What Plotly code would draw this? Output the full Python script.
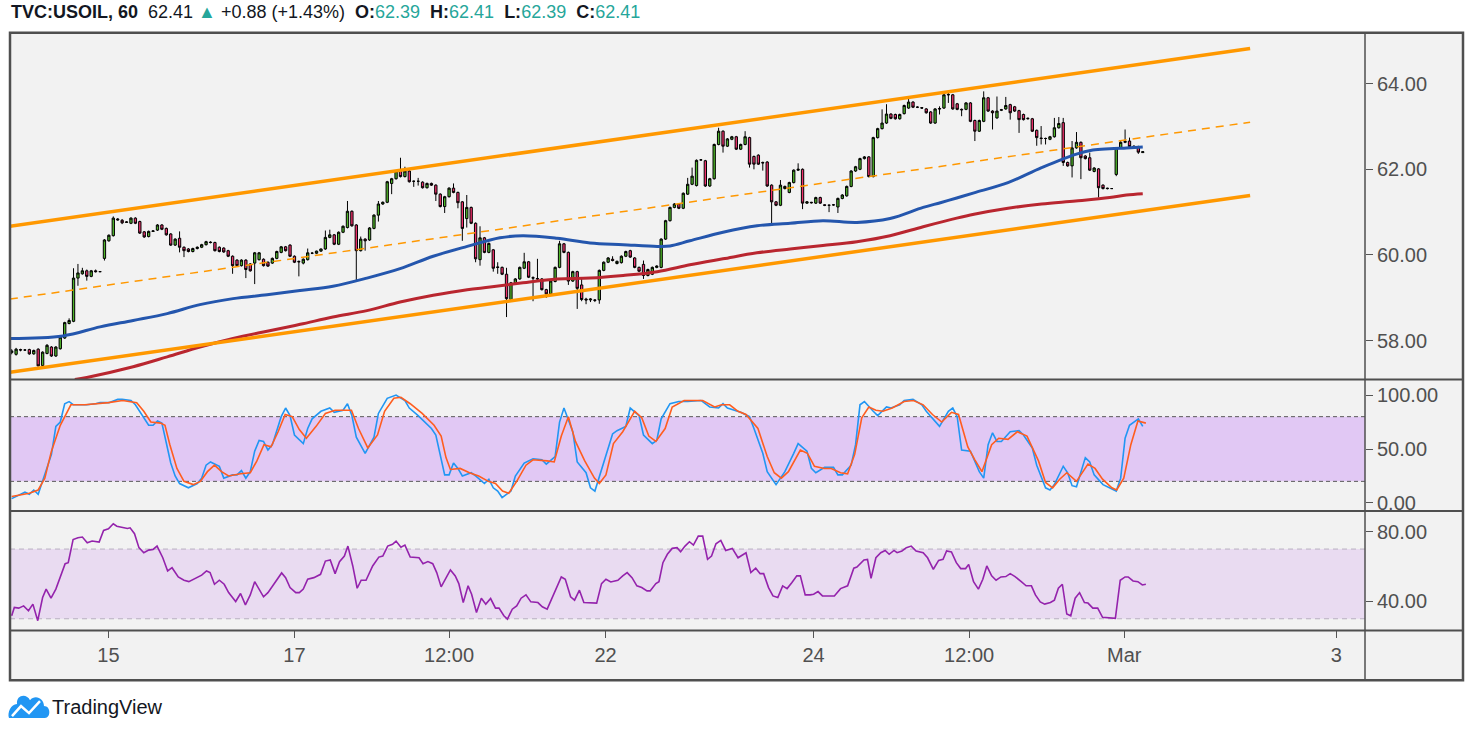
import plotly.graph_objects as go

W, H = 1471, 737
FONT = "Liberation Sans, Arial, sans-serif"

symbol = "TVC:USOIL, 60"
change = 0.88
change_pct = 1.43

# hourly candles, one entry per bar
opens = [
    57.72, 57.68, 57.79, 57.78, 57.79, 57.69, 57.80, 57.42, 57.70, 57.85,
    57.64, 57.81, 58.06, 58.40, 58.45, 59.46, 59.56, 59.63, 59.50, 59.63,
    59.61, 59.92, 60.33, 60.45, 60.84, 60.81, 60.76, 60.74, 60.86, 60.78,
    60.54, 60.43, 60.55, 60.58, 60.70, 60.62, 60.49, 60.23, 60.39, 60.18,
    60.14, 60.08, 60.15, 60.18, 60.24, 60.30, 60.29, 60.18, 60.16, 60.10,
    59.97, 59.88, 59.75, 59.88, 59.79, 59.81, 59.89, 59.90, 59.83, 59.81,
    59.92, 60.06, 60.19, 60.23, 59.97, 59.85, 59.81, 59.89, 60.04, 60.04,
    60.09, 60.14, 60.41, 60.47, 60.25, 60.53, 60.64, 61.02, 60.70, 60.10,
    60.37, 60.35, 60.62, 60.93, 61.19, 61.23, 61.67, 61.78, 61.96, 61.83,
    61.96, 61.72, 61.72, 61.70, 61.57, 61.67, 61.63, 61.42, 61.13, 61.36,
    61.56, 61.46, 61.24, 60.85, 61.11, 60.74, 59.89, 60.40, 60.06, 60.12,
    59.72, 59.71, 59.55, 58.96, 59.35, 59.44, 59.69, 59.84, 59.47, 59.45,
    59.44, 59.19, 59.09, 59.38, 59.71, 60.26, 60.06, 59.39, 59.61, 59.30,
    58.97, 58.95, 58.95, 58.95, 59.64, 59.83, 59.90, 59.80, 59.82, 59.97,
    60.10, 59.93, 59.71, 59.78, 59.52, 59.55, 59.71, 59.71, 60.37, 60.80,
    61.11, 61.19, 61.09, 61.42, 61.65, 61.62, 62.22, 62.20, 61.61, 61.78,
    62.58, 62.89, 62.54, 62.70, 62.76, 62.47, 62.58, 62.74, 62.30, 62.33,
    62.16, 62.17, 61.63, 61.24, 61.16, 61.55, 61.46, 61.69, 61.98, 62.00,
    61.21, 61.23, 61.21, 61.34, 61.17, 61.16, 61.17, 61.12, 61.32, 61.38,
    61.60, 61.96, 62.00, 62.25, 62.29, 61.83, 62.74, 62.95, 63.08, 63.29,
    63.28, 63.18, 63.30, 63.43, 63.57, 63.45, 63.44, 63.41, 63.34, 63.08,
    63.42, 63.43, 63.75, 63.74, 63.53, 63.40, 63.40, 63.55, 63.14, 62.89,
    63.12, 63.67, 63.36, 63.20, 63.38, 63.41, 63.51, 63.46, 63.37, 63.28,
    63.18, 63.18, 62.91, 62.73, 62.72, 62.70, 62.76, 62.97, 63.09, 62.16,
    62.08, 62.50, 62.63, 62.31, 62.27, 61.95, 62.01, 61.63, 61.56, 61.55,
    61.88, 62.50, 62.63, 62.66, 62.54, 62.53, 62.39,
]
highs = [
    57.80, 57.83, 57.81, 57.80, 57.81, 57.79, 57.82, 57.75, 57.92, 57.87,
    57.87, 58.10, 58.44, 58.52, 59.69, 59.79, 59.70, 59.66, 59.65, 59.66,
    59.62, 60.37, 60.48, 60.90, 60.86, 60.84, 60.79, 60.88, 60.88, 60.80,
    60.56, 60.57, 60.58, 60.72, 60.72, 60.64, 60.51, 60.39, 60.55, 60.20,
    60.16, 60.17, 60.20, 60.26, 60.33, 60.32, 60.31, 60.20, 60.18, 60.12,
    59.99, 59.90, 59.90, 59.90, 59.81, 60.07, 60.07, 59.92, 59.85, 59.94,
    60.10, 60.21, 60.21, 60.25, 59.99, 59.87, 59.92, 60.15, 60.07, 60.10,
    60.15, 60.57, 60.59, 60.49, 60.55, 60.69, 61.26, 61.04, 60.72, 60.43,
    60.39, 60.65, 60.95, 61.26, 61.25, 61.73, 61.80, 61.98, 62.27, 62.06,
    61.98, 61.74, 61.80, 61.72, 61.69, 61.69, 61.65, 61.44, 61.38, 61.58,
    61.67, 61.48, 61.26, 61.40, 61.13, 60.76, 60.67, 60.42, 60.29, 60.14,
    59.83, 59.73, 59.70, 59.37, 59.46, 59.73, 60.05, 59.86, 59.50, 59.91,
    59.46, 59.21, 59.41, 59.73, 60.33, 60.28, 60.08, 59.63, 59.63, 59.48,
    59.00, 58.99, 58.97, 59.66, 59.85, 59.95, 59.97, 59.87, 59.99, 60.10,
    60.12, 59.95, 59.73, 59.87, 59.68, 59.73, 59.76, 60.39, 60.82, 61.13,
    61.21, 61.21, 61.46, 61.80, 62.04, 62.23, 62.24, 62.22, 61.80, 62.60,
    62.97, 62.91, 62.73, 62.78, 62.78, 62.60, 62.89, 62.76, 62.32, 62.35,
    62.18, 62.19, 61.65, 61.26, 61.75, 61.62, 61.71, 62.00, 62.14, 62.02,
    61.26, 61.24, 61.36, 61.36, 61.18, 61.18, 61.19, 61.34, 61.42, 61.62,
    61.98, 62.08, 62.27, 62.31, 62.31, 62.76, 62.97, 63.40, 63.52, 63.31,
    63.30, 63.30, 63.51, 63.68, 63.59, 63.47, 63.45, 63.43, 63.36, 63.43,
    63.47, 63.80, 63.80, 63.76, 63.55, 63.42, 63.57, 63.57, 63.16, 63.16,
    63.82, 63.69, 63.38, 63.70, 63.41, 63.69, 63.53, 63.48, 63.39, 63.30,
    63.21, 63.20, 62.93, 63.01, 62.74, 62.78, 63.20, 63.22, 63.20, 62.18,
    62.66, 62.87, 62.65, 62.33, 62.39, 62.05, 62.03, 61.65, 61.57, 61.56,
    62.52, 62.66, 62.93, 62.74, 62.56, 62.55, 62.41,
]
lows = [
    57.68, 57.65, 57.75, 57.76, 57.67, 57.67, 57.40, 57.38, 57.68, 57.62,
    57.62, 57.79, 58.04, 58.38, 58.43, 59.28, 59.54, 59.40, 59.48, 59.59,
    59.60, 59.87, 60.31, 60.43, 60.80, 60.72, 60.75, 60.72, 60.72, 60.49,
    60.40, 60.41, 60.54, 60.56, 60.58, 60.45, 60.21, 60.21, 60.06, 59.95,
    60.06, 60.06, 60.13, 60.16, 60.22, 60.27, 60.08, 60.06, 60.05, 59.95,
    59.56, 59.73, 59.73, 59.46, 59.61, 59.32, 59.87, 59.73, 59.72, 59.79,
    59.90, 60.04, 60.08, 59.95, 59.81, 59.50, 59.78, 59.87, 60.02, 60.02,
    60.07, 60.12, 60.39, 60.23, 60.23, 60.51, 60.62, 60.66, 59.40, 60.08,
    60.10, 60.33, 60.60, 60.78, 61.17, 61.21, 61.42, 61.76, 61.81, 61.81,
    61.69, 61.59, 61.62, 61.55, 61.55, 61.61, 61.26, 61.11, 60.98, 61.34,
    61.44, 61.09, 60.33, 60.64, 60.72, 59.83, 59.75, 60.04, 60.04, 59.61,
    59.56, 59.53, 58.55, 58.94, 59.33, 59.42, 59.67, 59.46, 58.92, 59.42,
    59.17, 59.00, 59.07, 59.36, 59.69, 60.04, 59.30, 59.37, 58.74, 58.92,
    58.85, 58.90, 58.90, 58.86, 59.62, 59.81, 59.85, 59.78, 59.80, 59.95,
    59.93, 59.69, 59.60, 59.44, 59.50, 59.53, 59.69, 59.69, 60.35, 60.78,
    61.09, 61.07, 61.07, 61.40, 61.63, 61.60, 62.20, 61.59, 61.59, 61.76,
    62.56, 62.39, 62.52, 62.68, 62.45, 62.45, 62.56, 62.04, 62.00, 62.10,
    61.97, 61.59, 60.68, 61.14, 61.14, 61.53, 61.44, 61.67, 61.96, 61.07,
    61.19, 61.20, 61.19, 61.19, 61.14, 61.00, 61.15, 60.98, 61.30, 61.36,
    61.58, 61.94, 61.98, 62.23, 61.81, 61.81, 62.72, 62.93, 63.06, 63.17,
    63.16, 63.16, 63.28, 63.41, 63.43, 63.43, 63.41, 63.30, 63.06, 63.06,
    63.28, 63.41, 63.55, 63.39, 63.38, 63.24, 63.38, 63.10, 62.66, 62.87,
    63.10, 63.34, 62.93, 63.18, 63.36, 63.39, 63.16, 63.34, 62.85, 63.14,
    63.16, 62.87, 62.55, 62.58, 62.58, 62.68, 62.74, 62.95, 62.08, 62.06,
    61.81, 62.48, 61.77, 62.23, 61.96, 61.93, 61.34, 61.53, 61.53, 61.54,
    61.84, 62.48, 62.61, 62.51, 62.48, 62.36, 62.39,
]
closes = [
    57.76, 57.80, 57.78, 57.78, 57.69, 57.77, 57.41, 57.73, 57.89, 57.64,
    57.85, 58.08, 58.42, 58.47, 59.46, 59.58, 59.63, 59.50, 59.63, 59.61,
    59.61, 60.35, 60.46, 60.86, 60.82, 60.75, 60.77, 60.86, 60.74, 60.51,
    60.42, 60.55, 60.56, 60.70, 60.60, 60.47, 60.23, 60.37, 60.18, 60.10,
    60.08, 60.15, 60.18, 60.24, 60.31, 60.29, 60.10, 60.08, 60.07, 59.97,
    59.75, 59.75, 59.88, 59.66, 59.63, 60.05, 60.05, 59.75, 59.74, 59.92,
    60.08, 60.19, 60.10, 59.97, 59.83, 59.84, 59.90, 60.05, 60.04, 60.09,
    60.14, 60.41, 60.47, 60.25, 60.53, 60.67, 61.02, 60.68, 60.10, 60.37,
    60.33, 60.63, 60.93, 61.19, 61.23, 61.71, 61.78, 61.96, 61.83, 61.96,
    61.71, 61.72, 61.72, 61.57, 61.67, 61.63, 61.42, 61.13, 61.36, 61.56,
    61.46, 61.22, 60.62, 61.11, 60.74, 59.91, 60.40, 60.06, 60.27, 59.69,
    59.71, 59.55, 58.98, 59.35, 59.44, 59.71, 59.84, 59.48, 59.46, 59.44,
    59.19, 59.09, 59.39, 59.71, 60.26, 60.06, 59.39, 59.61, 59.22, 58.96,
    58.95, 58.97, 58.94, 59.64, 59.83, 59.93, 59.87, 59.85, 59.97, 60.08,
    59.95, 59.71, 59.62, 59.52, 59.66, 59.71, 59.74, 60.37, 60.80, 61.11,
    61.19, 61.09, 61.44, 61.65, 61.84, 62.21, 62.22, 61.61, 61.78, 62.58,
    62.89, 62.54, 62.71, 62.76, 62.47, 62.58, 62.76, 62.12, 62.12, 62.12,
    62.15, 61.61, 61.24, 61.16, 61.63, 61.60, 61.69, 61.98, 62.00, 61.21,
    61.24, 61.22, 61.34, 61.21, 61.16, 61.16, 61.17, 61.32, 61.40, 61.60,
    61.96, 62.06, 62.25, 62.29, 61.83, 62.74, 62.95, 63.08, 63.29, 63.19,
    63.18, 63.28, 63.49, 63.57, 63.45, 63.45, 63.43, 63.32, 63.08, 63.41,
    63.41, 63.74, 63.74, 63.41, 63.40, 63.39, 63.55, 63.12, 62.89, 63.14,
    63.67, 63.36, 63.32, 63.36, 63.39, 63.49, 63.32, 63.36, 63.16, 63.16,
    63.19, 62.89, 62.74, 62.72, 62.72, 62.76, 62.97, 63.07, 62.16, 62.08,
    62.50, 62.63, 62.27, 62.25, 61.98, 62.03, 61.57, 61.55, 61.55, 61.55,
    62.50, 62.63, 62.65, 62.53, 62.50, 62.40, 62.41,
]

# moving averages as (bar, price)
ma_fast_points = [
    (-0.4, 58.05), (11.6, 58.11), (20.0, 58.32), (27.5, 58.47), (35.2, 58.63),
    (42.6, 58.84), (50.1, 58.98), (57.8, 59.07), (65.3, 59.17), (72.7, 59.27),
    (80.4, 59.46), (87.9, 59.68), (95.4, 59.97), (103.1, 60.20), (110.5, 60.40),
    (115.7, 60.45), (123.4, 60.39), (130.9, 60.28), (138.4, 60.24), (146.1, 60.20),
    (149.0, 60.21), (153.5, 60.33), (161.0, 60.53), (168.7, 60.68), (176.2, 60.74),
    (183.6, 60.80), (191.3, 60.76), (198.8, 60.85), (206.3, 61.11), (210.2, 61.22),
    (213.9, 61.33), (217.8, 61.45), (225.5, 61.69), (233.1, 62.04), (240.8, 62.35),
    (244.7, 62.45), (248.5, 62.48), (252.3, 62.50), (256.0, 62.52),
]
ma_slow_points = [
    (14.3, 57.09), (17.0, 57.14), (27.5, 57.39), (35.2, 57.62), (42.6, 57.85),
    (50.1, 58.05), (57.8, 58.22), (65.3, 58.38), (72.7, 58.55), (80.4, 58.70),
    (87.9, 58.90), (95.4, 59.06), (103.1, 59.19), (108.3, 59.25), (115.7, 59.35),
    (123.4, 59.44), (130.9, 59.46), (138.4, 59.52), (146.1, 59.61), (153.5, 59.77),
    (161.0, 59.91), (168.7, 60.05), (176.2, 60.14), (183.6, 60.22), (191.3, 60.31),
    (198.8, 60.45), (206.3, 60.66), (213.9, 60.86), (217.8, 60.95), (225.5, 61.09),
    (233.1, 61.19), (240.8, 61.26), (248.5, 61.34), (252.3, 61.40), (256.0, 61.43),
]

# rising channel drawn on the chart
channel_bars = [-0.4, 280.3]
channel_upper = [60.67, 64.82]
channel_mid = [58.97, 63.10]
channel_lower = [57.26, 61.39]

# stochastic %K / %D as (bar, value)
stoch_k_points = [
    (0, 4), (1, 6), (3, 10), (4, 8), (5, 12), (6, 8), (7, 20), (9, 45), (10, 71), (11, 75),
    (12, 92), (13, 94), (14, 91), (17, 91), (19, 92), (20, 93), (22, 93), (24, 96), (25, 96), (27, 95),
    (28, 91), (30, 78), (31, 72), (32, 72), (33, 76), (34, 74), (35, 54), (36, 37), (37, 25), (38, 18),
    (40, 14), (42, 18), (43, 23), (44, 35), (45, 38), (47, 34), (48, 23), (50, 26), (51, 26), (52, 30),
    (53, 23), (54, 29), (55, 48), (56, 58), (57, 57), (58, 49), (59, 54), (61, 80), (62, 88), (63, 81),
    (64, 63), (66, 55), (67, 69), (68, 78), (70, 85), (72, 88), (73, 84), (75, 86), (76, 92), (77, 81),
    (78, 61), (80, 46), (82, 61), (83, 83), (85, 97), (87, 100), (89, 95), (90, 88), (92, 81), (93, 77),
    (95, 69), (96, 63), (97, 45), (98, 26), (99, 26), (100, 37), (101, 32), (102, 25), (104, 28), (105, 25),
    (107, 18), (108, 22), (109, 14), (110, 11), (111, 5), (113, 11), (114, 25), (116, 37), (118, 41), (120, 40),
    (121, 36), (123, 43), (124, 75), (125, 88), (127, 66), (128, 38), (130, 28), (131, 14), (132, 11), (134, 37),
    (136, 64), (137, 67), (139, 71), (140, 88), (142, 81), (143, 63), (145, 55), (146, 58), (147, 78), (149, 92),
    (151, 94), (153, 94), (156, 95), (158, 89), (160, 88), (161, 92), (162, 88), (165, 84), (167, 80), (168, 69),
    (170, 46), (171, 29), (173, 17), (175, 29), (176, 37), (177, 46), (178, 55), (180, 48), (181, 32), (182, 28),
    (184, 33), (186, 33), (187, 26), (188, 26), (190, 35), (191, 54), (192, 91), (193, 94), (195, 85), (196, 81),
    (198, 89), (199, 88), (201, 91), (202, 95), (204, 96), (206, 91), (207, 85), (209, 75), (210, 71), (212, 85),
    (213, 88), (214, 80), (215, 49), (217, 48), (219, 29), (220, 23), (221, 54), (222, 65), (223, 57), (224, 57),
    (226, 66), (228, 67), (229, 63), (231, 51), (232, 35), (234, 14), (235, 12), (236, 17), (238, 34), (239, 28),
    (240, 16), (241, 15), (243, 42), (244, 38), (245, 26), (247, 17), (248, 15), (250, 11), (251, 23), (252, 60),
    (253, 72), (255, 78), (256, 71),
]
stoch_d_points = [
    (0, 6), (4, 9), (6, 12), (7.5, 23), (9, 48), (11, 72), (13.4, 91), (16.6, 91), (21.9, 93), (25.1, 95),
    (28.3, 93), (29.9, 85), (31.5, 75), (33.7, 74), (34.7, 72), (35.8, 54), (37.4, 32), (39, 20), (41.1, 17), (42.7, 20),
    (44.3, 29), (45.9, 35), (47.5, 29), (49.1, 25), (51.8, 27), (54, 28), (55.5, 39), (57.1, 54), (58.7, 52), (60.3, 66),
    (61.9, 82), (63.5, 80), (65.1, 68), (66.7, 60), (68.9, 71), (71, 83), (73.2, 86), (74.8, 86), (76.9, 86), (78.5, 69),
    (80.6, 51), (82.8, 63), (84.4, 85), (86.5, 97), (88.1, 98), (90.2, 92), (92.9, 83), (95.6, 72), (97.2, 62), (98.3, 42),
    (99.3, 31), (101.5, 32), (103.6, 28), (105.7, 25), (107.9, 20), (109.5, 18), (111.1, 11), (112.5, 9), (114.3, 20), (116.4, 35),
    (118, 40), (121.2, 39), (122.8, 38), (124.4, 62), (126, 80), (127.6, 57), (129.7, 39), (131.9, 23), (133, 18), (134.5, 26),
    (136.2, 55), (138.3, 66), (141, 85), (142.6, 79), (144.2, 62), (145.8, 57), (147.9, 69), (149.5, 89), (152.2, 95), (156.4, 95),
    (159.1, 89), (160.7, 91), (162.5, 91), (164.4, 85), (166.2, 82), (168.9, 69), (171, 43), (172.6, 28), (174.2, 23), (175.8, 29),
    (178.5, 49), (180.1, 46), (181.7, 34), (183.9, 32), (185.5, 32), (187.6, 28), (189.2, 27), (190.8, 45), (192.4, 79), (194, 89),
    (195.6, 86), (197.2, 85), (199.3, 88), (202, 94), (204.1, 95), (206.3, 91), (208.4, 82), (210.5, 75), (212.7, 84), (214.3, 82),
    (216.4, 52), (218, 40), (219.6, 29), (221.8, 54), (223.4, 60), (225.5, 59), (227.6, 66), (229.8, 62), (232.4, 39), (234, 19),
    (235.6, 14), (237.2, 22), (238.8, 28), (241, 20), (243.6, 36), (245.2, 32), (246.9, 22), (249, 14), (250.1, 12), (251.7, 23),
    (253.3, 54), (254.9, 76), (255.9, 75), (256.7, 74),
]

# RSI as (bar, value)
rsi_points = [
    (0, 31.7), (0.6, 36.5), (1.6, 36.1), (2.7, 37.4), (3.8, 34.6), (4.8, 38.4), (5.9, 28.9), (7.0, 42.2), (7.8, 47.0), (8.9, 41.8),
    (10.0, 47.0), (11.0, 53.6), (12.1, 61.6), (12.8, 62.2), (13.9, 75.5), (15.0, 76.5), (16.0, 76.9), (17.1, 73.6), (18.2, 74.6), (19.8, 74.0),
    (20.8, 80.7), (21.9, 81.6), (23.0, 84.5), (23.8, 83.1), (25.1, 82.6), (26.2, 81.8), (26.8, 82.2), (27.8, 78.8), (28.8, 70.8), (29.9, 67.9),
    (31.0, 69.4), (32.0, 69.8), (32.9, 71.7), (34.2, 65.0), (35.3, 57.4), (36.3, 59.3), (37.7, 54.0), (39.0, 52.1), (40.1, 51.3), (41.1, 52.7),
    (42.2, 54.2), (43.0, 55.0), (44.1, 57.4), (44.9, 56.5), (45.9, 49.8), (47.0, 52.1), (48.1, 49.8), (49.1, 45.0), (50.7, 39.9), (51.8, 44.5),
    (52.9, 38.0), (54.0, 43.7), (55.0, 51.3), (57.0, 42.6), (58.0, 45.0), (59.3, 49.8), (61.1, 56.3), (62.0, 53.6), (63.0, 47.9), (64.3, 45.0),
    (65.1, 45.0), (66.0, 47.0), (67.0, 52.7), (68.4, 53.6), (69.9, 55.5), (71.0, 63.1), (72.1, 63.7), (73.2, 55.9), (74.2, 62.8), (75.3, 66.0),
    (76.1, 71.7), (77.2, 60.3), (78.2, 47.5), (79.1, 52.1), (80.2, 52.1), (81.7, 60.3), (83.1, 65.4), (84.0, 66.0), (85.1, 71.7), (86.2, 72.7),
    (87.0, 74.6), (88.1, 71.1), (89.0, 72.3), (90.2, 65.4), (92.2, 65.0), (93.1, 61.6), (94.2, 62.8), (95.3, 61.6), (96.2, 56.5), (97.2, 48.3),
    (98.3, 53.6), (99.3, 58.0), (100.4, 54.6), (101.2, 50.2), (102.2, 39.3), (103.3, 48.9), (104.1, 44.1), (105.2, 33.6), (106.3, 41.8), (107.3, 38.4),
    (108.4, 41.6), (109.5, 36.1), (110.3, 36.1), (111.4, 31.7), (112.2, 29.8), (113.3, 35.5), (114.3, 37.4), (115.3, 41.8), (116.4, 43.7), (117.5, 39.7),
    (119.1, 39.3), (120.1, 36.9), (121.2, 35.5), (122.8, 45.0), (124.4, 54.0), (125.3, 52.7), (126.5, 42.6), (127.4, 40.7), (128.5, 46.4), (129.5, 39.3),
    (132.4, 39.0), (133.5, 50.2), (134.5, 52.7), (135.6, 51.1), (137.2, 52.1), (138.3, 54.6), (139.3, 56.5), (140.4, 53.6), (141.5, 48.9), (142.6, 47.9),
    (143.8, 46.0), (144.5, 46.0), (145.8, 50.2), (146.5, 51.3), (147.4, 62.2), (148.4, 67.0), (149.5, 70.4), (150.6, 70.8), (151.4, 68.5), (152.4, 71.7),
    (153.4, 74.2), (154.3, 72.3), (155.4, 77.4), (156.4, 77.4), (157.5, 64.1), (158.4, 66.0), (159.4, 73.0), (160.5, 75.0), (161.6, 69.2), (163.1, 70.4),
    (164.4, 65.0), (166.2, 67.9), (167.3, 56.5), (168.4, 59.0), (169.4, 55.9), (170.2, 55.9), (171.3, 47.9), (172.3, 43.1), (173.4, 42.2), (174.5, 48.9),
    (175.5, 47.3), (176.6, 50.8), (177.7, 54.6), (178.5, 54.6), (179.6, 43.7), (180.7, 43.7), (181.5, 44.1), (182.5, 45.6), (183.5, 43.1), (184.9, 43.1),
    (186.2, 43.1), (187.6, 47.3), (189.2, 48.9), (190.6, 59.0), (191.3, 59.7), (192.9, 63.7), (193.7, 64.1), (194.5, 53.2), (195.6, 65.0), (196.7, 67.9),
    (197.7, 69.2), (198.6, 67.0), (199.7, 69.2), (200.4, 67.9), (201.5, 68.9), (202.5, 70.8), (203.6, 71.7), (204.7, 68.9), (206.3, 67.9), (207.3, 65.0),
    (208.6, 58.4), (209.8, 63.5), (210.8, 64.1), (211.6, 68.9), (212.7, 68.3), (213.8, 62.2), (214.8, 58.8), (215.9, 58.8), (216.6, 61.2), (217.7, 51.3),
    (218.8, 47.0), (219.8, 52.7), (220.7, 60.3), (221.8, 54.6), (222.8, 52.1), (223.9, 54.0), (225.0, 54.2), (226.0, 55.9), (227.1, 54.2), (228.5, 51.3),
    (229.6, 48.9), (230.8, 48.9), (231.7, 43.7), (232.8, 39.7), (233.8, 38.4), (235.1, 39.3), (236.0, 40.7), (236.9, 47.5), (237.8, 49.8), (238.8, 32.7),
    (239.7, 31.7), (240.7, 41.8), (241.7, 45.0), (242.8, 39.3), (243.6, 39.0), (244.7, 36.1), (245.8, 36.1), (246.9, 30.8), (248.5, 30.4), (249.8, 30.2),
    (250.9, 52.1), (252.0, 54.0), (252.7, 54.0), (253.8, 51.7), (254.9, 51.3), (255.9, 49.4), (256.7, 49.8),
]

stoch_band = [20, 80]
rsi_band = [30, 70]

price_ticks = [58, 60, 62, 64]
stoch_ticks = [0, 50, 100]
rsi_ticks = [40, 80]
time_tick_bars = [21.9, 64.0, 99.0, 134.4, 181.5, 216.7, 251.8, 299.8]
time_tick_labels = ["15", "17", "12:00", "22", "24", "12:00", "Mar", "3"]


def px(x):
    return x / W


def py(y):
    return 1 - y / H


def unzip(points):
    return [p[0] for p in points], [p[1] for p in points]


def svg_path(cmds, close=True):
    parts = []
    for cmd, *c in cmds:
        pairs = [f"{px(c[i]):.5f},{py(c[i + 1]):.5f}" for i in range(0, len(c), 2)]
        parts.append(cmd + " " + " ".join(pairs))
    return " ".join(parts) + (" Z" if close else "")


def header_text():
    teal = "#26a69a"
    sp = "\u00a0"
    text = f"<b>{symbol}</b>{sp}{sp}{closes[-1]:.2f}{sp}<span style='color:{teal}'>▲</span>{sp}"
    text += f"+{change:.2f} (+{change_pct:.2f}%){sp}{sp}"
    for label, value in [("O", opens[-1]), ("H", highs[-1]), ("L", lows[-1]), ("C", closes[-1])]:
        text += f"<b>{label}:</b><span style='color:{teal}'>{value:.2f}</span>{sp}{sp}"
    return text


def main():
    fig = go.Figure()
    bars = list(range(len(closes)))

    fig.add_trace(go.Candlestick(
        x=bars, open=opens, high=highs, low=lows, close=closes,
        increasing=dict(line=dict(color="#000000", width=1), fillcolor="#4fb52a"),
        decreasing=dict(line=dict(color="#000000", width=1), fillcolor="#f0306b"),
        whiskerwidth=0, xaxis="x", yaxis="y", hoverinfo="skip",
    ))

    fx, fy = unzip(ma_fast_points)
    sx, sy = unzip(ma_slow_points)
    fig.add_trace(go.Scatter(x=sx, y=sy, mode="lines", line=dict(color="#b9262f", width=3, shape="spline"),
                             xaxis="x", yaxis="y", hoverinfo="skip"))
    fig.add_trace(go.Scatter(x=fx, y=fy, mode="lines", line=dict(color="#2456ad", width=3, shape="spline"),
                             xaxis="x", yaxis="y", hoverinfo="skip"))

    for ys, width, dash in [(channel_upper, 3.5, "solid"), (channel_lower, 3.5, "solid"), (channel_mid, 1.5, "8px,6px")]:
        fig.add_trace(go.Scatter(x=channel_bars, y=ys, mode="lines",
                                 line=dict(color="#ff9800", width=width, dash=dash),
                                 xaxis="x", yaxis="y", hoverinfo="skip"))

    kx, ky = unzip(stoch_k_points)
    dx, dy = unzip(stoch_d_points)
    fig.add_trace(go.Scatter(x=kx, y=ky, mode="lines", line=dict(color="#2196f3", width=1.6),
                             xaxis="x", yaxis="y2", hoverinfo="skip"))
    fig.add_trace(go.Scatter(x=dx, y=dy, mode="lines", line=dict(color="#ff5d1f", width=1.6),
                             xaxis="x", yaxis="y2", hoverinfo="skip"))

    rx, ry = unzip(rsi_points)
    fig.add_trace(go.Scatter(x=rx, y=ry, mode="lines", line=dict(color="#9423ac", width=1.6),
                             xaxis="x", yaxis="y3", hoverinfo="skip"))

    border = "#4f4f4f"
    shapes = [
        dict(type="rect", xref="paper", yref="paper", x0=px(10), x1=px(1463), y0=py(683), y1=py(33),
             fillcolor="#f2f2f2", line=dict(width=0), layer="below"),
        dict(type="rect", xref="paper", yref="y2", x0=px(10), x1=px(1365), y0=stoch_band[0], y1=stoch_band[1],
             fillcolor="#e1c8f4", line=dict(width=0), layer="below"),
        dict(type="rect", xref="paper", yref="y3", x0=px(10), x1=px(1365), y0=rsi_band[0], y1=rsi_band[1],
             fillcolor="#e9dbf1", line=dict(width=0), layer="below"),
    ]
    for v in stoch_band:
        shapes.append(dict(type="line", xref="paper", yref="y2", x0=px(10), x1=px(1365), y0=v, y1=v,
                           line=dict(color="#5a5a5a", width=1, dash="4px,3px"), layer="below"))
    for v in rsi_band:
        shapes.append(dict(type="line", xref="paper", yref="y3", x0=px(10), x1=px(1365), y0=v, y1=v,
                           line=dict(color="#b9afc0", width=1, dash="5px,4px"), layer="below"))
    for y in [381, 513, 633]:
        shapes.append(dict(type="line", xref="paper", yref="paper", x0=px(10), x1=px(1463), y0=py(y), y1=py(y),
                           line=dict(color=border, width=2)))
    shapes.append(dict(type="line", xref="paper", yref="paper", x0=px(1365), x1=px(1365), y0=py(33), y1=py(683),
                       line=dict(color=border, width=1.5)))
    shapes.append(dict(type="rect", xref="paper", yref="paper", x0=px(10), x1=px(1463), y0=py(683), y1=py(33),
                       fillcolor="rgba(0,0,0,0)", line=dict(color=border, width=2.5)))

    # TradingView cloud logo
    cloud = [("M", 9, 721), ("L", 45, 721), ("C", 51, 721, 51, 709, 44, 709), ("C", 44, 701, 35, 697, 30, 703),
             ("C", 27, 696, 16, 697, 17, 707), ("C", 11, 707, 7, 716, 9, 721)]
    shapes.append(dict(type="path", xref="paper", yref="paper", path=svg_path(cloud),
                       fillcolor="#2196f3", line=dict(width=0)))
    zig = [("M", 12, 719), ("L", 21, 709), ("L", 29, 716), ("L", 40, 704)]
    shapes.append(dict(type="path", xref="paper", yref="paper", path=svg_path(zig, close=False),
                       line=dict(color="white", width=2.5)))

    annotations = [
        dict(x=px(9), y=py(12), xref="paper", yref="paper", xanchor="left", yanchor="middle",
             text=header_text(), showarrow=False, font=dict(size=18, color="#131722", family=FONT)),
        dict(x=px(50), y=py(710), xref="paper", yref="paper", xanchor="left", yanchor="middle",
             text="TradingView", showarrow=False, font=dict(size=20, color="#131722", family=FONT)),
    ]

    axis_common = dict(showgrid=False, zeroline=False, showline=False, ticks="outside", ticklen=7,
                       tickcolor="#555555", tickwidth=1, tickfont=dict(size=20, color="#505050", family=FONT),
                       fixedrange=True)

    fig.update_layout(
        width=W, height=H, margin=dict(l=0, r=0, t=0, b=0),
        paper_bgcolor="white", plot_bgcolor="#f2f2f2",
        showlegend=False, hovermode=False, boxgap=0.25,
        font=dict(family=FONT),
        xaxis=dict(domain=[px(10), px(1365)], range=[-0.38, 306.3], anchor="y3",
                   tickvals=time_tick_bars, ticktext=time_tick_labels,
                   rangeslider=dict(visible=False), **axis_common),
        yaxis=dict(domain=[py(381), py(33)], range=[57.093, 65.186], side="right", anchor="x",
                   tickvals=price_ticks, tickformat=".2f", **axis_common),
        yaxis2=dict(domain=[py(513), py(381)], range=[-7.39, 114.5], side="right", anchor="x",
                    tickvals=stoch_ticks, tickformat=".2f", **axis_common),
        yaxis3=dict(domain=[py(633), py(513)], range=[23.3, 91.9], side="right", anchor="x",
                    tickvals=rsi_ticks, tickformat=".2f", **axis_common),
        shapes=shapes,
        annotations=annotations,
    )

    fig.write_html("out.html", config={"displayModeBar": False},
                   post_script="document.body.style.margin='0';")


if __name__ == "__main__":
    main()
